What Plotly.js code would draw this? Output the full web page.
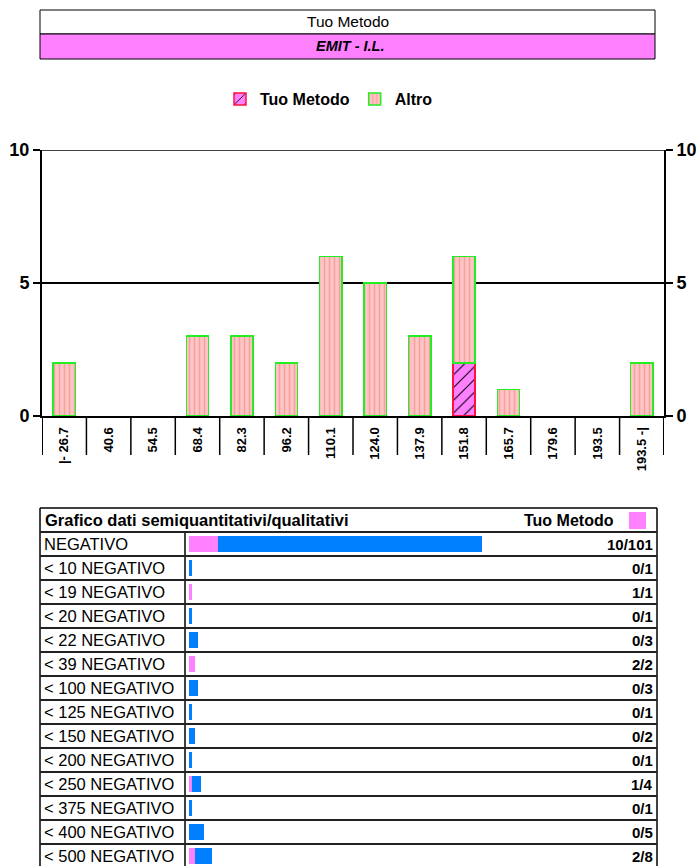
<!DOCTYPE html>
<html>
<head>
<meta charset="utf-8">
<script src="https://cdn.plot.ly/plotly-3.0.1.min.js"></script>
<style>
html,body{margin:0;padding:0;background:#fff;}
#chart{width:696px;height:866px;}
</style>
</head>
<body>
<div id="chart"></div>
<script>
// ---- data ----
const categories = ['|- 26.7','40.6','54.5','68.4','82.3','96.2','110.1','124.0','137.9','151.8','165.7','179.6','193.5','193.5 -|'];
const tuoMetodo = [0,0,0,0,0,0,0,0,0,2,0,0,0,0];
const altro     = [2,0,0,3,3,2,6,5,3,4,1,0,0,2];
const yTicks = [0,5,10];

const semiLabels = ['NEGATIVO','< 10 NEGATIVO','< 19 NEGATIVO','< 20 NEGATIVO','< 22 NEGATIVO','< 39 NEGATIVO','< 100 NEGATIVO','< 125 NEGATIVO','< 150 NEGATIVO','< 200 NEGATIVO','< 250 NEGATIVO','< 375 NEGATIVO','< 400 NEGATIVO','< 500 NEGATIVO'];
const semiTuo   = [10,0,1,0,0,2,0,0,0,0,1,0,0,2];
const semiTotal = [101,1,1,1,3,2,3,1,2,1,4,1,5,8];

const headerTitle = 'Tuo Metodo';
const headerMethod = 'EMIT - I.L.';
const tableTitle = 'Grafico dati semiquantitativi/qualitativi';

// ---- layout helpers ----
const W = 696, H = 866;
const fx = p => p / W;
const fy = p => 1 - p / H;
const FONT = 'Liberation Sans, Arial, sans-serif';

const plotL = 42, plotR = 664, plotTop = 150, plotBot = 416, sepBot = 455;
const tblL = 40, tblR = 657, tblTop = 508, hdrBot = 532, rowH = 24, colDiv = 185;
const barL = 189, barR = 655, pxPerUnit = 2.9;

const nz = v => (v === 0 ? null : v);

const traces = [
  {
    type: 'bar', name: 'Tuo Metodo', x: categories, y: tuoMetodo.map(nz),
    xaxis: 'x', yaxis: 'y', width: 0.5,
    marker: { color: '#FF80FF',
      pattern: { shape: '/', fgcolor: '#000000', bgcolor: '#FF80FF', size: 9, solidity: 0.12 },
      line: { color: '#FF1040', width: 1.5 } },
    hoverinfo: 'skip'
  },
  {
    type: 'bar', name: 'Altro', x: categories, y: altro.map(nz),
    xaxis: 'x', yaxis: 'y', width: 0.5,
    marker: { color: '#FFC4C4',
      pattern: { shape: '|', fgcolor: '#F4A0A0', bgcolor: '#FFC4C4', size: 5, solidity: 0.3 },
      line: { color: '#22EE22', width: 1.5 } },
    hoverinfo: 'skip'
  },
  {
    // anchors the right-hand mirror axis
    type: 'scatter', mode: 'none', x: categories, y: altro, xaxis: 'x', yaxis: 'y3',
    showlegend: false, hoverinfo: 'skip'
  },
  {
    type: 'bar', orientation: 'h', x: semiTuo.map(nz), y: semiLabels,
    xaxis: 'x2', yaxis: 'y2', width: 0.63, showlegend: false,
    marker: { color: '#FF80FF' }, hoverinfo: 'skip'
  },
  {
    type: 'bar', orientation: 'h', x: semiTotal.map((t, i) => nz(t - semiTuo[i])), y: semiLabels,
    xaxis: 'x2', yaxis: 'y2', width: 0.63, showlegend: false,
    marker: { color: '#0080FF' }, hoverinfo: 'skip'
  }
];

const shapes = [];
const annotations = [];

// header boxes
shapes.push({ type: 'rect', xref: 'paper', yref: 'paper', x0: fx(40), x1: fx(655), y0: fy(34), y1: fy(10),
  line: { color: '#000', width: 1 }, fillcolor: '#FFFFFF', layer: 'below' });
shapes.push({ type: 'rect', xref: 'paper', yref: 'paper', x0: fx(40), x1: fx(655), y0: fy(59), y1: fy(34),
  line: { color: '#000', width: 1 }, fillcolor: '#FF80FF', layer: 'below' });
annotations.push({ xref: 'paper', yref: 'paper', x: fx(347.5), y: fy(22), text: headerTitle, showarrow: false,
  xanchor: 'center', yanchor: 'middle', font: { family: FONT, size: 15.5, color: '#000' } });
annotations.push({ xref: 'paper', yref: 'paper', x: fx(350), y: fy(46.5), text: '<b><i>' + headerMethod + '</i></b>', showarrow: false,
  xanchor: 'center', yanchor: 'middle', font: { family: FONT, size: 14.5, color: '#000' } });

// top gridline at the maximum tick
shapes.push({ type: 'line', xref: 'paper', yref: 'y', x0: fx(plotL), x1: fx(plotR), y0: yTicks[yTicks.length - 1], y1: yTicks[yTicks.length - 1],
  line: { color: '#000', width: 1.5 } });

// category separators below x axis
for (let i = 0; i <= categories.length; i++) {
  shapes.push({ type: 'line', xref: 'x', yref: 'paper', x0: i - 0.5, x1: i - 0.5, y0: fy(sepBot), y1: fy(plotBot),
    line: { color: '#000', width: (i === 0 || i === categories.length) ? 2 : 1.5 } });
}

// table frame
const nRows = semiLabels.length;
shapes.push({ type: 'line', xref: 'paper', yref: 'paper', x0: fx(tblL), x1: fx(tblR), y0: fy(tblTop), y1: fy(tblTop), line: { color: '#000', width: 1.5 } });
shapes.push({ type: 'line', xref: 'paper', yref: 'paper', x0: fx(tblL), x1: fx(tblL), y0: fy(tblTop), y1: 0, line: { color: '#000', width: 1.5 } });
shapes.push({ type: 'line', xref: 'paper', yref: 'paper', x0: fx(tblR), x1: fx(tblR), y0: fy(tblTop), y1: 0, line: { color: '#000', width: 1.5 } });
shapes.push({ type: 'line', xref: 'paper', yref: 'paper', x0: fx(colDiv), x1: fx(colDiv), y0: fy(hdrBot), y1: 0, line: { color: '#000', width: 1.5 } });
for (let k = 0; k < nRows; k++) {
  const py = hdrBot + k * rowH;
  shapes.push({ type: 'line', xref: 'paper', yref: 'paper', x0: fx(tblL), x1: fx(tblR), y0: fy(py), y1: fy(py),
    line: { color: '#222', width: 2 } });
}
// header row contents
annotations.push({ xref: 'paper', yref: 'paper', x: fx(43), y: fy(520), text: '<b>' + tableTitle + '</b>', showarrow: false,
  xanchor: 'left', yanchor: 'middle', font: { family: FONT, size: 16.5, color: '#000' } });
annotations.push({ xref: 'paper', yref: 'paper', x: fx(616), y: fy(520), text: '<b>Tuo Metodo</b>', showarrow: false,
  xanchor: 'right', yanchor: 'middle', font: { family: FONT, size: 16, color: '#000' } });
shapes.push({ type: 'rect', xref: 'paper', yref: 'paper', x0: fx(629), x1: fx(646), y0: fy(529), y1: fy(512),
  line: { width: 0 }, fillcolor: '#FF80FF' });

// row labels and values
semiLabels.forEach((lab, i) => {
  annotations.push({ xref: 'paper', yref: 'y2', x: fx(42), y: lab, text: lab, showarrow: false,
    xanchor: 'left', yanchor: 'middle', font: { family: FONT, size: 16.5, color: '#000' } });
  annotations.push({ xref: 'paper', yref: 'y2', x: fx(655), y: lab, text: '<b>' + semiTuo[i] + '/' + semiTotal[i] + '</b>', showarrow: false,
    xanchor: 'right', yanchor: 'middle', font: { family: FONT, size: 15, color: '#000' } });
});

const yRangeBottom = (H - hdrBot) / rowH - 0.5;

const axisY = {
  range: [0, 10], tickvals: yTicks,
  ticks: 'outside', ticklen: 7, tickwidth: 2, tickcolor: '#000',
  showline: true, linecolor: '#000', linewidth: 2, zeroline: false,
  tickfont: { family: FONT, size: 18, color: '#000', weight: 'bold' }
};

const layout = {
  width: W, height: H,
  margin: { l: 0, r: 0, t: 0, b: 0, pad: 0 },
  paper_bgcolor: '#FFFFFF', plot_bgcolor: 'rgba(0,0,0,0)',
  font: { family: FONT, color: '#000' },
  barmode: 'stack',
  hovermode: false,
  showlegend: true,
  legend: { orientation: 'h', x: fx(329), xanchor: 'center', y: fy(99), yanchor: 'middle',
    font: { family: FONT, size: 16, color: '#000', weight: 'bold' }, bgcolor: 'rgba(0,0,0,0)', traceorder: 'normal' },
  xaxis: {
    domain: [fx(plotL), fx(plotR)], anchor: 'y', type: 'category', range: [-0.5, categories.length - 0.5],
    showline: true, linecolor: '#000', linewidth: 2, showgrid: false, zeroline: false,
    ticks: 'outside', ticklen: 4, tickcolor: 'rgba(0,0,0,0)', tickangle: -90,
    tickfont: { family: FONT, size: 13, color: '#000', weight: 'bold' }
  },
  yaxis: Object.assign({}, axisY, {
    domain: [fy(plotBot), fy(plotTop)], anchor: 'x',
    showgrid: true, gridcolor: '#000', gridwidth: 1.5
  }),
  yaxis3: Object.assign({}, axisY, {
    overlaying: 'y', side: 'right', anchor: 'x', showgrid: false
  }),
  xaxis2: {
    domain: [fx(barL), fx(barR)], anchor: 'y2', range: [0, (barR - barL) / pxPerUnit], visible: false
  },
  yaxis2: {
    domain: [0, fy(hdrBot)], anchor: 'x2', type: 'category', range: [yRangeBottom, -0.5], visible: false
  },
  shapes: shapes,
  annotations: annotations
};

Plotly.newPlot('chart', traces, layout, { staticPlot: true, displayModeBar: false });
</script>
</body>
</html>
